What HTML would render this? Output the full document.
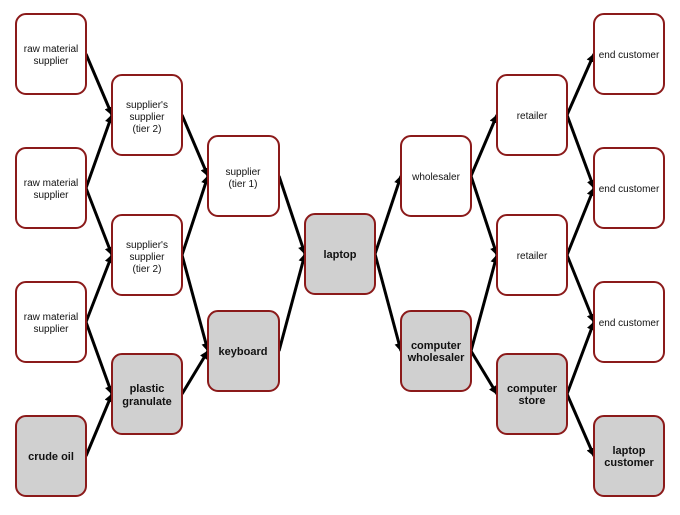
<!DOCTYPE html>
<html><head><style>
body{margin:0;background:#fff;}
svg text{font-family:"Liberation Sans",Arial,sans-serif;font-size:10px;fill:#111;text-anchor:middle;}
svg text.b{font-weight:bold;font-size:11px;}
</style></head><body>
<svg width="680" height="510" viewBox="0 0 680 510" xmlns="http://www.w3.org/2000/svg">
<defs><marker id="a" markerWidth="9" markerHeight="9" refX="8" refY="4.5" orient="auto" markerUnits="userSpaceOnUse"><path d="M0,0 L9,4.5 L0,9 z" fill="#000"/></marker></defs>
<g stroke="#000" stroke-width="3" fill="none" marker-end="url(#a)">
<line x1="86" y1="54" x2="112" y2="115"/>
<line x1="86" y1="188" x2="112" y2="115"/>
<line x1="86" y1="188" x2="112" y2="255"/>
<line x1="86" y1="322" x2="112" y2="255"/>
<line x1="86" y1="322" x2="112" y2="394"/>
<line x1="86" y1="456" x2="112" y2="394"/>
<line x1="182" y1="115" x2="208" y2="176"/>
<line x1="182" y1="255" x2="208" y2="176"/>
<line x1="182" y1="255" x2="208" y2="351"/>
<line x1="182" y1="394" x2="208" y2="351"/>
<line x1="279" y1="176" x2="305" y2="254"/>
<line x1="279" y1="351" x2="305" y2="254"/>
<line x1="375" y1="254" x2="401" y2="176"/>
<line x1="375" y1="254" x2="401" y2="351"/>
<line x1="471" y1="176" x2="497" y2="115"/>
<line x1="471" y1="176" x2="497" y2="255"/>
<line x1="471" y1="351" x2="497" y2="255"/>
<line x1="471" y1="351" x2="497" y2="394"/>
<line x1="567" y1="115" x2="594" y2="54"/>
<line x1="567" y1="115" x2="594" y2="188"/>
<line x1="567" y1="255" x2="594" y2="188"/>
<line x1="567" y1="255" x2="594" y2="322"/>
<line x1="567" y1="394" x2="594" y2="322"/>
<line x1="567" y1="394" x2="594" y2="456"/>
</g>
<g stroke="#8b1a1a" stroke-width="2">
<rect x="16" y="14" width="70" height="80" rx="10" fill="#fff"/>
<rect x="16" y="148" width="70" height="80" rx="10" fill="#fff"/>
<rect x="16" y="282" width="70" height="80" rx="10" fill="#fff"/>
<rect x="16" y="416" width="70" height="80" rx="10" fill="#d0d0d0"/>
<rect x="112" y="75" width="70" height="80" rx="10" fill="#fff"/>
<rect x="112" y="215" width="70" height="80" rx="10" fill="#fff"/>
<rect x="112" y="354" width="70" height="80" rx="10" fill="#d0d0d0"/>
<rect x="208" y="136" width="71" height="80" rx="10" fill="#fff"/>
<rect x="208" y="311" width="71" height="80" rx="10" fill="#d0d0d0"/>
<rect x="305" y="214" width="70" height="80" rx="10" fill="#d0d0d0"/>
<rect x="401" y="136" width="70" height="80" rx="10" fill="#fff"/>
<rect x="401" y="311" width="70" height="80" rx="10" fill="#d0d0d0"/>
<rect x="497" y="75" width="70" height="80" rx="10" fill="#fff"/>
<rect x="497" y="215" width="70" height="80" rx="10" fill="#fff"/>
<rect x="497" y="354" width="70" height="80" rx="10" fill="#d0d0d0"/>
<rect x="594" y="14" width="70" height="80" rx="10" fill="#fff"/>
<rect x="594" y="148" width="70" height="80" rx="10" fill="#fff"/>
<rect x="594" y="282" width="70" height="80" rx="10" fill="#fff"/>
<rect x="594" y="416" width="70" height="80" rx="10" fill="#d0d0d0"/>
</g>
<text x="51" y="52">raw material</text><text x="51" y="64">supplier</text>
<text x="51" y="186">raw material</text><text x="51" y="198">supplier</text>
<text x="51" y="320">raw material</text><text x="51" y="332">supplier</text>
<text class="b" x="51" y="460">crude oil</text>
<text x="147" y="108">supplier's</text><text x="147" y="120">supplier</text><text x="147" y="132">(tier 2)</text>
<text x="147" y="248">supplier's</text><text x="147" y="260">supplier</text><text x="147" y="272">(tier 2)</text>
<text class="b" x="147" y="392">plastic</text><text class="b" x="147" y="405">granulate</text>
<text x="243" y="175">supplier</text><text x="243" y="187">(tier 1)</text>
<text class="b" x="243" y="355">keyboard</text>
<text class="b" x="340" y="258">laptop</text>
<text x="436" y="180">wholesaler</text>
<text class="b" x="436" y="349">computer</text><text class="b" x="436" y="361">wholesaler</text>
<text x="532" y="119">retailer</text>
<text x="532" y="259">retailer</text>
<text class="b" x="532" y="392">computer</text><text class="b" x="532" y="404">store</text>
<text x="629" y="58">end customer</text>
<text x="629" y="192">end customer</text>
<text x="629" y="326">end customer</text>
<text class="b" x="629" y="454">laptop</text><text class="b" x="629" y="466">customer</text>
</svg>
</body></html>
